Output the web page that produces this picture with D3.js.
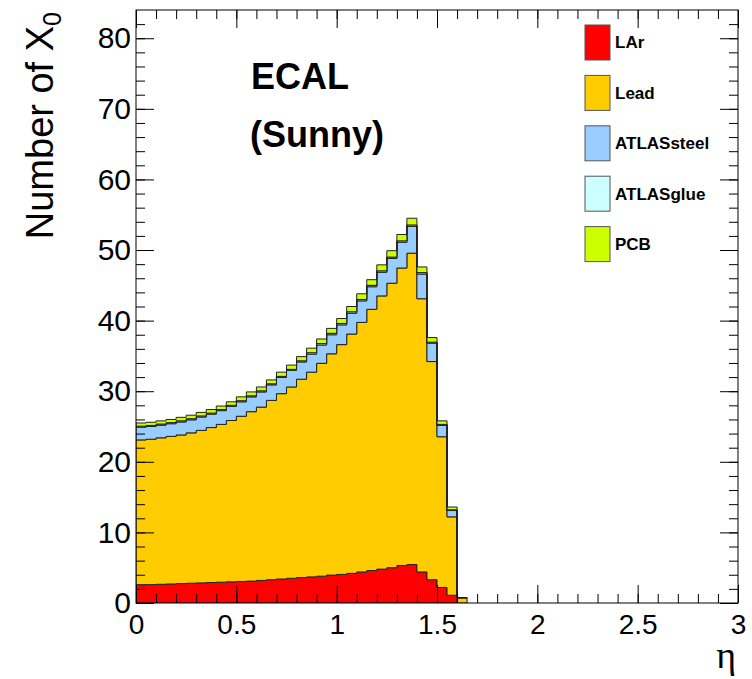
<!DOCTYPE html>
<html>
<head>
<meta charset="utf-8">
<script src="https://cdn.jsdelivr.net/npm/d3@7"></script>
<style>
body { margin: 0; background: #fff; }
text { font-family: "Liberation Sans", Arial, Helvetica, sans-serif; }
</style>
</head>
<body>
<div id="chart"></div>
<script>
// eta bins (lower edge), width 0.05
const etaLow = [0, 0.05, 0.1, 0.15, 0.2, 0.25, 0.3, 0.35, 0.4, 0.45, 0.5, 0.55, 0.6, 0.65, 0.7, 0.75,
                0.8, 0.85, 0.9, 0.95, 1.0, 1.05, 1.1, 1.15, 1.2, 1.25, 1.3, 1.35, 1.4, 1.45, 1.5, 1.55, 1.6];
const binWidth = 0.05;

// X0 per material
const lar   = [2.6, 2.6, 2.65, 2.7, 2.75, 2.8, 2.85, 2.9, 2.95, 3.0, 3.05, 3.1, 3.2, 3.3, 3.4, 3.5,
               3.6, 3.7, 3.8, 3.95, 4.05, 4.2, 4.4, 4.6, 4.8, 5.0, 5.3, 5.45, 4.4, 3.3, 2.2, 1.1, 0];
const lead  = [20.5, 20.6, 20.75, 20.9, 21.05, 21.3, 21.6, 21.95, 22.35, 22.85, 23.4, 24.0, 24.55, 25.4, 26.25, 27.1,
               28.1, 29.0, 30.15, 31.35, 32.55, 33.9, 35.35, 37.0, 38.7, 40.3, 42.15, 44.1, 38.7, 30.9, 21.35, 11.1, 0.75];
const steel = [1.8, 1.8, 1.8, 1.8, 1.85, 1.85, 1.9, 1.9, 1.95, 2.0, 2.05, 2.1, 2.15, 2.2, 2.3, 2.35,
               2.45, 2.55, 2.6, 2.7, 2.8, 2.95, 3.05, 3.2, 3.35, 3.5, 3.65, 3.8, 3.5, 2.6, 1.6, 0.9, 0];
const glue  = [0.15, 0.15, 0.15, 0.15, 0.15, 0.15, 0.15, 0.15, 0.15, 0.15, 0.15, 0.15, 0.15, 0.15, 0.15, 0.15,
               0.15, 0.2, 0.2, 0.2, 0.2, 0.2, 0.2, 0.2, 0.2, 0.2, 0.2, 0.2, 0.2, 0.15, 0.15, 0.1, 0];
const pcb   = [0.45, 0.45, 0.45, 0.45, 0.5, 0.5, 0.5, 0.5, 0.5, 0.5, 0.55, 0.55, 0.55, 0.55, 0.6, 0.6,
               0.6, 0.65, 0.65, 0.7, 0.7, 0.75, 0.8, 0.8, 0.85, 0.9, 0.9, 0.95, 0.8, 0.65, 0.5, 0.4, 0];

const materials = ["LAr", "Lead", "ATLASsteel", "ATLASglue", "PCB"];
const colors = ["#ff0000", "#ffcc00", "#99ccff", "#ccffff", "#ccff00"];
const xTicks = [0, 0.5, 1, 1.5, 2, 2.5, 3];
const yTicks = [0, 10, 20, 30, 40, 50, 60, 70, 80];

const W = 752, H = 679;
const frame = {left: 136, right: 738, top: 10, bottom: 603};

const svg = d3.select("#chart").append("svg")
    .attr("width", W)
    .attr("height", H);

const x = d3.scaleLinear().domain([0, 3]).range([frame.left, frame.right]);
const y = d3.scaleLinear().domain([0, 84]).range([frame.bottom, frame.top]);

// build rows for the stack
const rows = etaLow.map((e, i) => ({
    eta: e, LAr: lar[i], Lead: lead[i], ATLASsteel: steel[i], ATLASglue: glue[i], PCB: pcb[i]
}));
const stacked = d3.stack().keys(materials)(rows);

svg.append("clipPath").attr("id", "plotclip")
  .append("rect")
    .attr("x", frame.left).attr("y", frame.top)
    .attr("width", frame.right - frame.left).attr("height", frame.bottom - frame.top);

const area = d3.area()
    .x(d => x(d.x))
    .y0(d => y(d.y0))
    .y1(d => y(d.y1));

const plot = svg.append("g").attr("clip-path", "url(#plotclip)");
stacked.forEach((s, k) => {
    const pts = s.flatMap(d => [
        {x: d.data.eta, y0: d[0], y1: d[1]},
        {x: d.data.eta + binWidth, y0: d[0], y1: d[1]}
    ]);
    plot.append("path")
        .attr("d", area(pts))
        .attr("fill", colors[k])
        .attr("stroke", "#222")
        .attr("stroke-width", 1)
        .attr("stroke-linejoin", "miter");
});

// ROOT style ticks on all four sides, pointing inwards
function styleAxis(size) {
    return g => {
        g.select(".domain").remove();
        g.selectAll("line").attr("stroke", "#000").attr("stroke-width", 1);
        g.selectAll("text")
            .attr("font-size", size)
            .attr("fill", "#000")
            .style("font-family", "'Liberation Sans', Arial, Helvetica, sans-serif");
    };
}
const xMinorVals = d3.range(0, 3.001, 0.1);
const yMinorVals = d3.range(0, 84, 2);

svg.append("g").attr("transform", `translate(0,${frame.bottom})`)
    .call(d3.axisBottom(x).tickValues(xMinorVals).tickSize(-9).tickFormat(""))
    .call(styleAxis(28));
svg.append("g").attr("transform", `translate(0,${frame.bottom})`)
    .call(d3.axisBottom(x).tickValues(xTicks).tickSize(-18).tickPadding(11).tickFormat(d => String(d)))
    .call(styleAxis(28));
svg.append("g").attr("transform", `translate(0,${frame.top})`)
    .call(d3.axisTop(x).tickValues(xMinorVals).tickSize(-9).tickFormat(""))
    .call(styleAxis(28));
svg.append("g").attr("transform", `translate(0,${frame.top})`)
    .call(d3.axisTop(x).tickValues(xTicks).tickSize(-18).tickFormat(""))
    .call(styleAxis(28));

svg.append("g").attr("transform", `translate(${frame.left},0)`)
    .call(d3.axisLeft(y).tickValues(yMinorVals).tickSize(-9).tickFormat(""))
    .call(styleAxis(30));
svg.append("g").attr("transform", `translate(${frame.left},0)`)
    .call(d3.axisLeft(y).tickValues(yTicks).tickSize(-18).tickPadding(5).tickFormat(d => String(d)))
    .call(styleAxis(30));
svg.append("g").attr("transform", `translate(${frame.right},0)`)
    .call(d3.axisRight(y).tickValues(yMinorVals).tickSize(-9).tickFormat(""))
    .call(styleAxis(30));
svg.append("g").attr("transform", `translate(${frame.right},0)`)
    .call(d3.axisRight(y).tickValues(yTicks).tickSize(-18).tickFormat(""))
    .call(styleAxis(30));

// frame
svg.append("rect")
    .attr("x", frame.left).attr("y", frame.top)
    .attr("width", frame.right - frame.left).attr("height", frame.bottom - frame.top)
    .attr("fill", "none").attr("stroke", "#000").attr("stroke-width", 1);

// axis titles
svg.append("text")
    .attr("x", 736).attr("y", 668)
    .attr("text-anchor", "end")
    .attr("font-size", 38)
    .style("font-family", "'Liberation Serif', 'DejaVu Serif', serif")
    .text("η");

const yt = svg.append("text")
    .attr("transform", "translate(53,12) rotate(-90)")
    .attr("text-anchor", "end")
    .attr("font-size", 38);
yt.append("tspan").text("Number of X");
yt.append("tspan").attr("font-size", 25).attr("dy", 8).text("0");

// labels in the pad
svg.append("text").attr("x", 251).attr("y", 89)
    .attr("font-size", 36).attr("font-weight", "bold").text("ECAL");
svg.append("text").attr("x", 250).attr("y", 147)
    .attr("font-size", 36).attr("font-weight", "bold").text("(Sunny)");

// legend
const legend = svg.append("g");
materials.forEach((m, i) => {
    const yy = 25 + i * 50.4;
    legend.append("rect")
        .attr("x", 585).attr("y", yy)
        .attr("width", 25).attr("height", 35)
        .attr("fill", colors[i])
        .attr("stroke", "#555").attr("stroke-width", 1);
    legend.append("text")
        .attr("x", 615).attr("y", yy + 17.5)
        .attr("dy", "0.35em")
        .attr("font-size", 17).attr("font-weight", "bold")
        .text(m);
});
</script>
</body>
</html>
